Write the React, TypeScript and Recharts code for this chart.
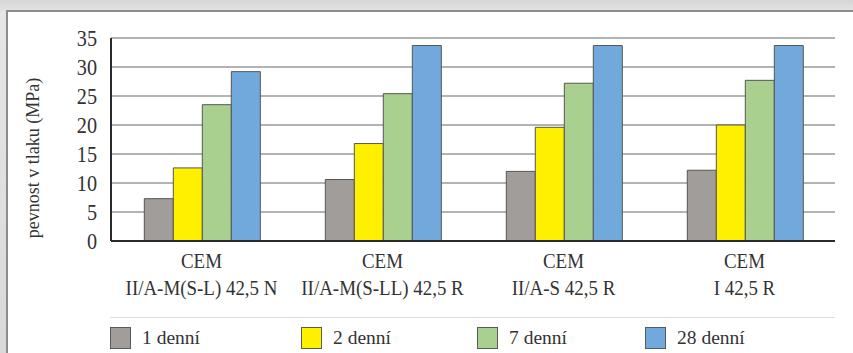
import React from 'react';
import { BarChart, Bar, XAxis, YAxis, CartesianGrid, Legend } from 'recharts';

const cements = [
    'CEM II/A-M(S-L) 42,5 N',
    'CEM II/A-M(S-LL) 42,5 R',
    'CEM II/A-S 42,5 R',
    'CEM I 42,5 R',
];
const day1 = [7.3, 10.6, 12.0, 12.2];
const day2 = [12.6, 16.8, 19.6, 20.0];
const day7 = [23.5, 25.4, 27.2, 27.7];
const day28 = [29.2, 33.7, 33.7, 33.7];
const yTicks = [0, 5, 10, 15, 20, 25, 30, 35];

const series = [
    { key: 'd1', name: '1 denní', color: '#a19d9b' },
    { key: 'd2', name: '2 denní', color: '#fff000' },
    { key: 'd7', name: '7 denní', color: '#a9d08e' },
    { key: 'd28', name: '28 denní', color: '#72a9dc' },
];

const data = cements.map((name, i) => ({
    name,
    d1: day1[i],
    d2: day2[i],
    d7: day7[i],
    d28: day28[i],
}));

const FONT = 'Liberation Serif';
const TEXT = '#333333';
// the labels use a narrow serif; squeeze Liberation Serif horizontally
const SQUEEZE = 0.88;

function CementTick({ x, y, payload }: any) {
    const label: string = payload.value;
    const cut = label.indexOf(' ');
    return (
        <g transform={`translate(${x},${y}) scale(${SQUEEZE},1)`}>
            <text textAnchor="middle" y={19} fill={TEXT} fontSize={21.5} fontFamily={FONT}>
                {label.slice(0, cut)}
            </text>
            <text textAnchor="middle" y={46} fill={TEXT} fontSize={21.5} fontFamily={FONT}>
                {label.slice(cut + 1)}
            </text>
        </g>
    );
}

function ValueTick({ x, y, payload }: any) {
    return (
        <g transform={`translate(${x},${y}) scale(${SQUEEZE},1)`}>
            <text textAnchor="end" dy="0.36em" fill={TEXT} fontSize={23} fontFamily={FONT}>
                {payload.value}
            </text>
        </g>
    );
}

// legend items sit at fixed slots under a thin rule
const legendSlots = [110, 301, 477, 645];

function LegendRow() {
    return (
        <div style={{ position: 'relative', width: 853, height: 50 }}>
            <div style={{ position: 'absolute', left: 110, top: 14, width: 725, height: 1, background: '#dcdcdc' }} />
            {series.map((s, i) => (
                <div
                    key={s.key}
                    style={{
                        position: 'absolute',
                        left: legendSlots[i],
                        top: 24,
                        display: 'flex',
                        alignItems: 'center',
                        fontFamily: FONT,
                        fontSize: 19.5,
                        lineHeight: '22px',
                        color: TEXT,
                    }}
                >
                    <span
                        style={{
                            display: 'inline-block',
                            width: 19,
                            height: 20,
                            background: s.color,
                            border: '1px solid #5a5a5a',
                            marginRight: 11,
                        }}
                    />
                    {s.name}
                </div>
            ))}
        </div>
    );
}

export default function App() {
    return (
        <div
            style={{
                position: 'fixed',
                left: 0,
                top: 0,
                width: 853,
                height: 353,
                background: 'linear-gradient(180deg, #d6d6d6 0%, #e6e6e6 4%, #d9d9d9 100%)',
                overflow: 'hidden',
            }}
        >
            <div
                style={{
                    position: 'absolute',
                    left: 6,
                    top: 10,
                    width: 847,
                    height: 343,
                    background: '#ffffff',
                    borderLeft: '2px solid #8c8c8c',
                    borderTop: '2px solid #8c8c8c',
                    boxSizing: 'border-box',
                }}
            />
            <div style={{ position: 'absolute', left: 0, top: 0 }}>
                <BarChart
                    width={853}
                    height={353}
                    data={data}
                    margin={{ top: 38, right: 18, left: 0, bottom: 0 }}
                    barCategoryGap="18.4%"
                    barGap={0}
                >
                    <CartesianGrid vertical={false} stroke="#9a9a9a" strokeWidth={1.5} />
                    <XAxis
                        dataKey="name"
                        height={62}
                        tickLine={false}
                        axisLine={{ stroke: '#2a2a2a', strokeWidth: 2 }}
                        tick={<CementTick />}
                        interval={0}
                    />
                    <YAxis
                        width={111}
                        domain={[0, 35]}
                        ticks={yTicks}
                        tickLine={false}
                        tickSize={0}
                        tickMargin={14}
                        axisLine={{ stroke: '#2a2a2a', strokeWidth: 2 }}
                        tick={<ValueTick />}
                        label={{
                            content: () => (
                                <text
                                    transform="translate(33,158) rotate(-90)"
                                    textAnchor="middle"
                                    dominantBaseline="central"
                                    fill={TEXT}
                                    fontSize={18}
                                    fontFamily={FONT}
                                >
                                    pevnost v tlaku (MPa)
                                </text>
                            ),
                        }}
                    />
                    <Legend verticalAlign="bottom" height={50} content={() => <LegendRow />} />
                    {series.map((s) => (
                        <Bar
                            key={s.key}
                            dataKey={s.key}
                            name={s.name}
                            fill={s.color}
                            stroke="#555555"
                            strokeWidth={1}
                            isAnimationActive={false}
                        />
                    ))}
                </BarChart>
            </div>
        </div>
    );
}
